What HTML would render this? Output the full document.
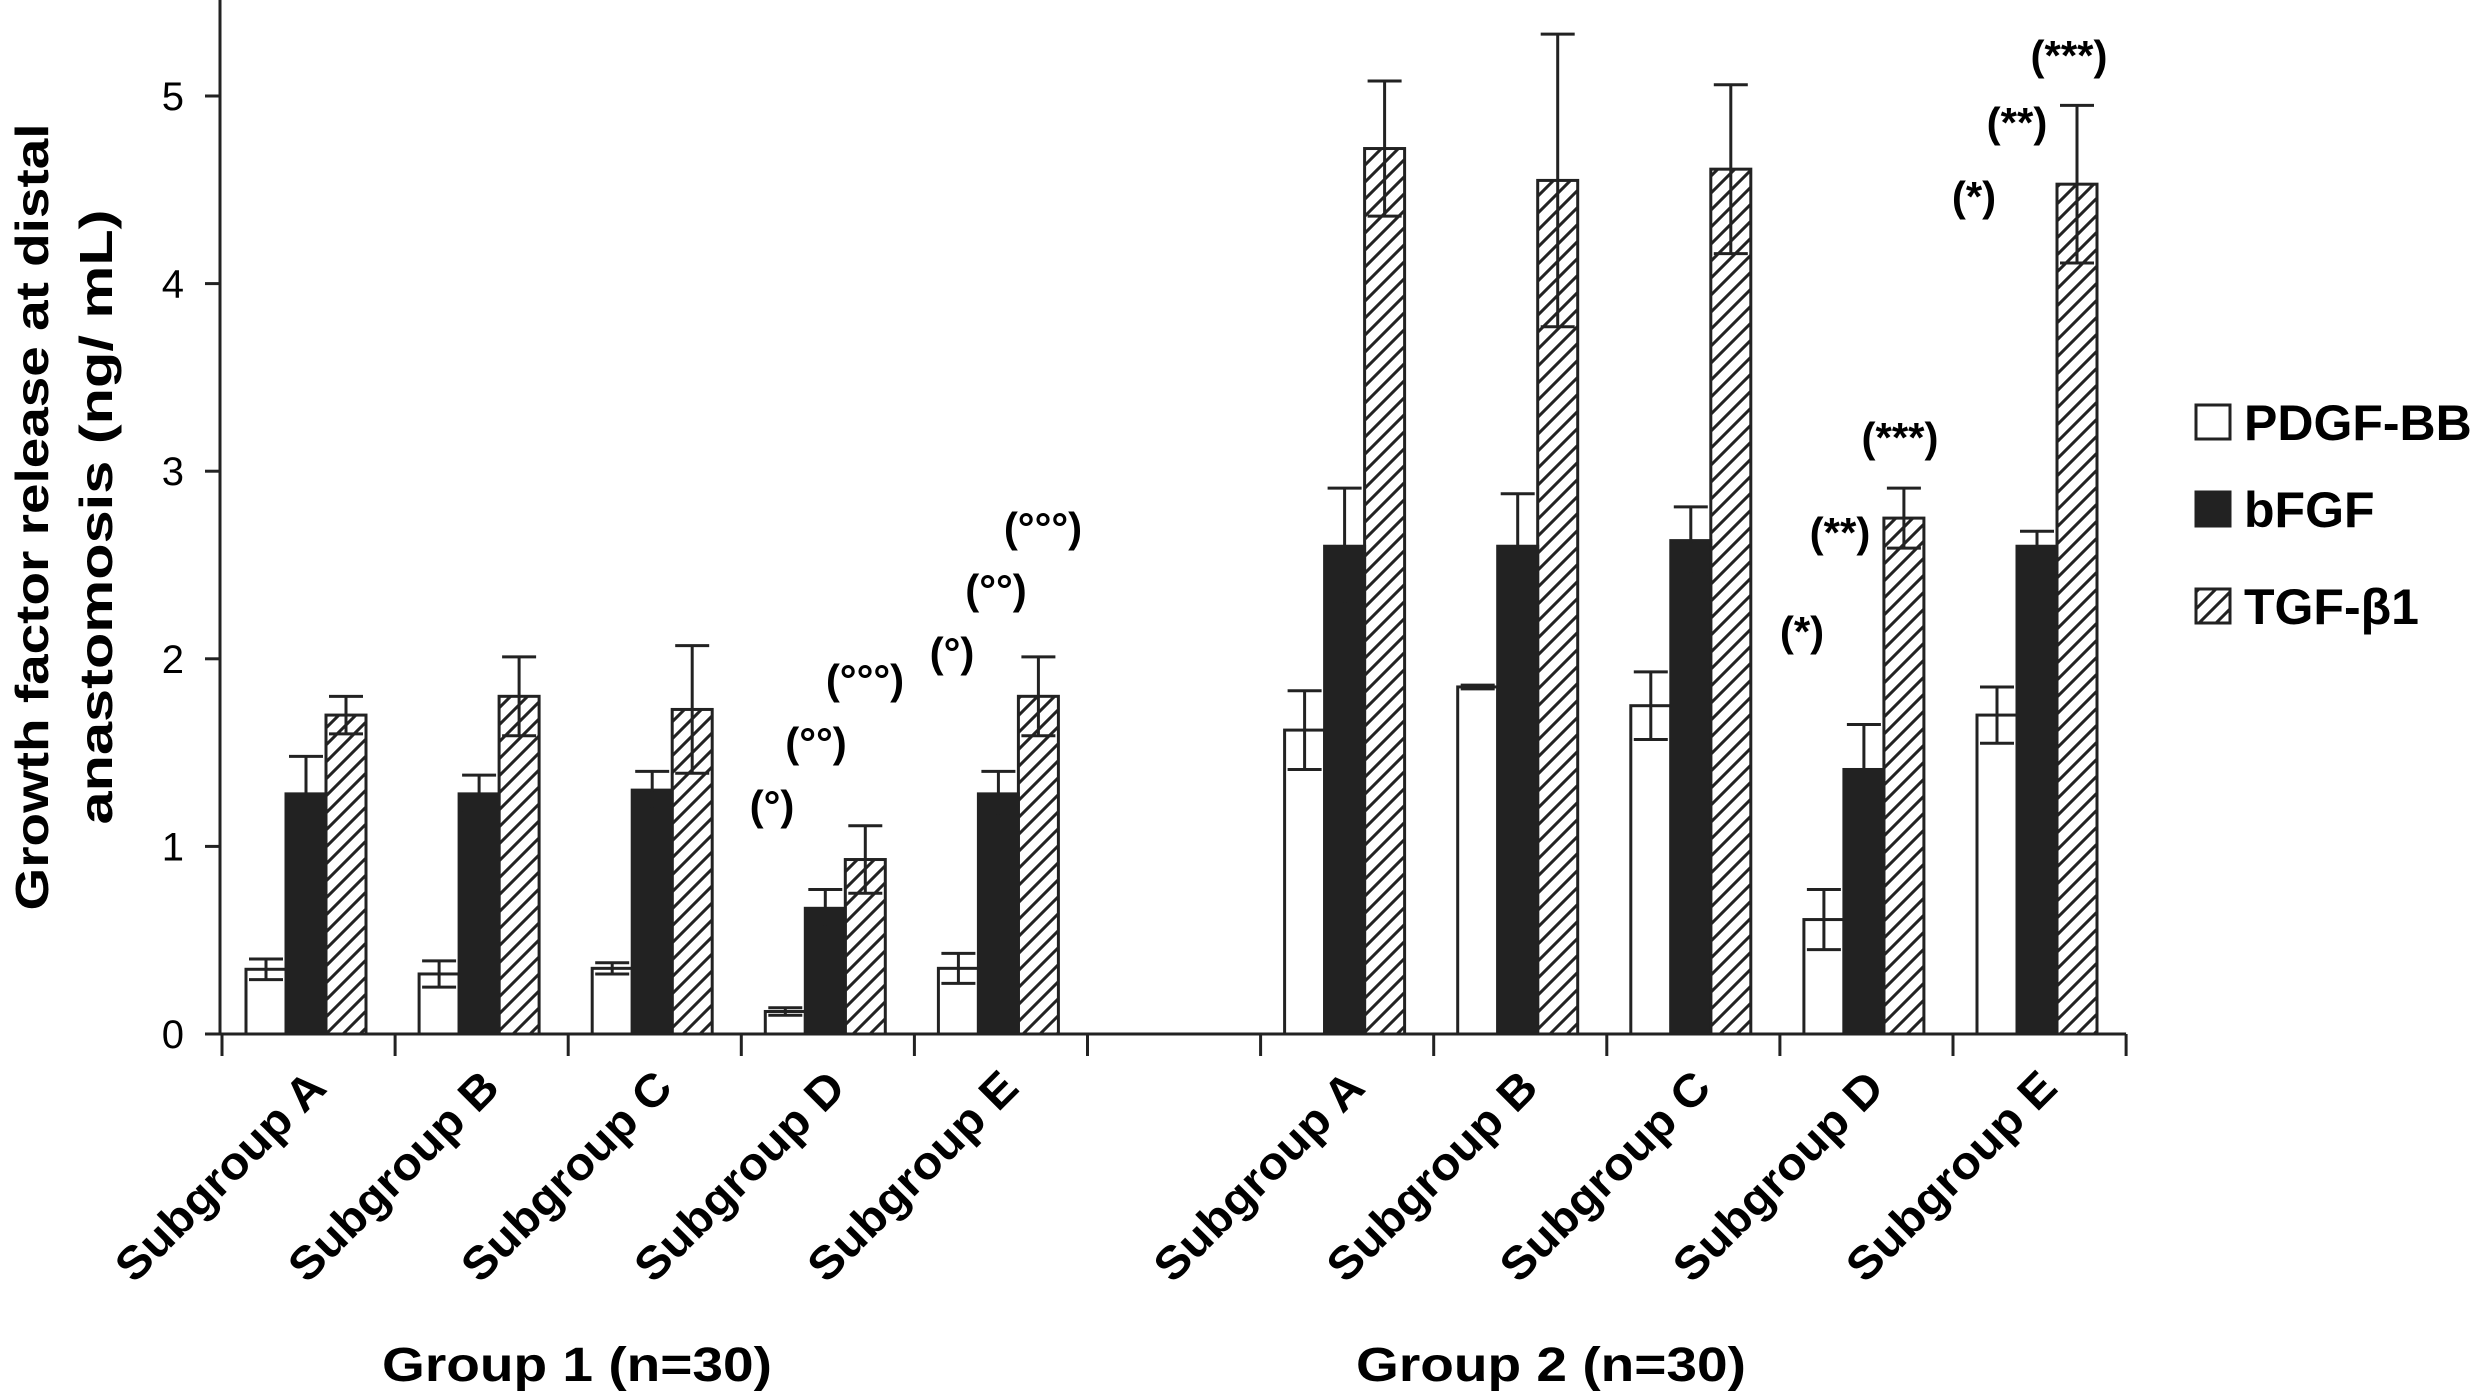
<!DOCTYPE html>
<html><head><meta charset="utf-8"><style>
html,body{margin:0;padding:0;background:#fff;}
svg{display:block;font-family:"Liberation Sans",Arial,sans-serif;}
</style></head><body>
<svg id="chart" width="2475" height="1392" viewBox="0 0 2475 1392" xmlns="http://www.w3.org/2000/svg">
<defs>
<pattern id="hatch" patternUnits="userSpaceOnUse" width="17" height="17">
<line x1="-4" y1="21" x2="21" y2="-4" stroke="#222" stroke-width="3"/>
<line x1="-4" y1="4" x2="4" y2="-4" stroke="#222" stroke-width="3"/>
<line x1="13" y1="21" x2="21" y2="13" stroke="#222" stroke-width="3"/>
</pattern>
</defs>
<g id="plot"></g>
</svg>
<script>
const categories = ["Subgroup A","Subgroup B","Subgroup C","Subgroup D","Subgroup E","","Subgroup A","Subgroup B","Subgroup C","Subgroup D","Subgroup E"];
const seriesNames = ["PDGF-BB","bFGF","TGF-β1"];
const pdgfValues = [0.345,0.32,0.35,0.12,0.35,null,1.62,1.85,1.75,0.61,1.70];
const pdgfErrors = [0.055,0.07,0.03,0.02,0.08,null,0.21,0.01,0.18,0.16,0.15];
const bfgfValues = [1.28,1.28,1.30,0.67,1.28,null,2.60,2.60,2.63,1.41,2.60];
const bfgfErrors = [0.20,0.10,0.10,0.10,0.12,null,0.31,0.28,0.18,0.24,0.08];
const tgfValues = [1.70,1.80,1.73,0.93,1.80,null,4.72,4.55,4.61,2.75,4.53];
const tgfErrors = [0.10,0.21,0.34,0.18,0.21,null,0.36,0.78,0.45,0.16,0.42];
const yTicks = [0,1,2,3,4,5];
const groupLabels = ["Group 1 (n=30)","Group 2 (n=30)"];
const annotations = [
 {cat:3,ser:0,text:"(°)"},{cat:3,ser:1,text:"(°°)"},{cat:3,ser:2,text:"(°°°)"},
 {cat:4,ser:0,text:"(°)"},{cat:4,ser:1,text:"(°°)"},{cat:4,ser:2,text:"(°°°)"},
 {cat:9,ser:0,text:"(*)"},{cat:9,ser:1,text:"(**)"},{cat:9,ser:2,text:"(***)"},
 {cat:10,ser:0,text:"(*)"},{cat:10,ser:1,text:"(**)"},{cat:10,ser:2,text:"(***)"}
];

const NS="http://www.w3.org/2000/svg";
const g=document.getElementById('plot');
const X0=222, SLOT=173.1, Y0=1034, UNIT=187.6, BW=40, BOFF=24;
const y=v=>Y0-v*UNIT;
const xBar=(c,s)=>X0+c*SLOT+BOFF+s*BW;
function mk(t,a,p){const e=document.createElementNS(NS,t);for(const k in a)e.setAttribute(k,a[k]);(p||g).appendChild(e);return e;}

const vals=[pdgfValues,bfgfValues,tgfValues], errs=[pdgfErrors,bfgfErrors,tgfErrors];
const fills=["#fff","#222","url(#hatch)"];
const keys=["pdgf","bfgf","tgf"];
categories.forEach((c,ci)=>{
  for(let s=0;s<3;s++){
    const v=vals[s][ci]; if(v==null) continue;
    const e=errs[s][ci];
    const x=xBar(ci,s);
    const r=mk('rect',{x:x,y:y(v),width:BW,height:y(0)-y(v),fill:fills[s],stroke:"#222","stroke-width":3});
    
    
    const eg=mk('g',{stroke:"#222","stroke-width":3});
    
    
    const cx=x+BW/2;
    mk('line',{x1:cx,x2:cx,y1:y(v+e),y2:y(v-e)},eg);
    mk('line',{x1:x+3,x2:x+BW-3,y1:y(v+e),y2:y(v+e)},eg);
    mk('line',{x1:x+3,x2:x+BW-3,y1:y(v-e),y2:y(v-e)},eg);
  }
  if(c){
    const t=mk('text',{x:X0+ci*SLOT+SLOT/2+20,y:1090,"text-anchor":"end","font-size":46,"font-weight":"bold",fill:"#000",transform:`rotate(-45 ${X0+ci*SLOT+SLOT/2+20} 1090)`,textLength:275,lengthAdjust:"spacingAndGlyphs"});
    t.textContent=c;
    
    
  }
});

const ax=mk('g',{stroke:"#222","stroke-width":3});


mk('line',{x1:220,x2:220,y1:0,y2:Y0+1.5},ax);
mk('line',{x1:205,x2:X0+categories.length*SLOT,y1:Y0,y2:Y0},ax);
for(let i=0;i<=categories.length;i++) mk('line',{x1:X0+i*SLOT,x2:X0+i*SLOT,y1:Y0,y2:Y0+22},ax);
yTicks.forEach(t=>{
  mk('line',{x1:205,x2:220,y1:y(t),y2:y(t)},ax);
  const tx=mk('text',{x:184,y:y(t)+14,"text-anchor":"end","font-size":40,fill:"#000"});
  tx.textContent=t;
  
  
});

const yt=mk('text',{transform:"translate(48 517) rotate(-90)","text-anchor":"middle","font-size":46,"font-weight":"bold",fill:"#000",textLength:787,lengthAdjust:"spacingAndGlyphs"});
yt.textContent="Growth factor release at distal";


const yt2=mk('text',{transform:"translate(112 517) rotate(-90)","text-anchor":"middle","font-size":46,"font-weight":"bold",fill:"#000",textLength:615,lengthAdjust:"spacingAndGlyphs"});
yt2.textContent="anastomosis (ng/ mL)";



[[577,0],[1551,1]].forEach(([cx,i])=>{
  const t=mk('text',{x:cx,y:1381,"text-anchor":"middle","font-size":48,"font-weight":"bold",fill:"#000",textLength:390,lengthAdjust:"spacingAndGlyphs"});
  t.textContent=groupLabels[i];
  
  
});

const annPos=[[772,805],[816,742],[865,679],[952,652],[996,589],[1043,527],[1802,631],[1840,532],[1900,437],[1974,196],[2017,122],[2069,55]];
annotations.forEach((a,i)=>{
  const t=mk('text',{x:annPos[i][0],y:annPos[i][1]+15,"text-anchor":"middle","font-size":42,"font-weight":"bold",fill:"#000"});
  t.textContent=a.text;
  
  
});

const lg=mk('g',{});


[422,509,606].forEach((cy,i)=>{
  const e=mk('g',{},lg);
  
  
  mk('rect',{x:2196,y:cy-17,width:34,height:34,fill:fills[i],stroke:"#222","stroke-width":3},e);
  const t=mk('text',{x:2244,y:cy+18,"font-size":50,"font-weight":"bold",fill:"#000"},e);
  t.textContent=seriesNames[i];
});
</script>
</body></html>
